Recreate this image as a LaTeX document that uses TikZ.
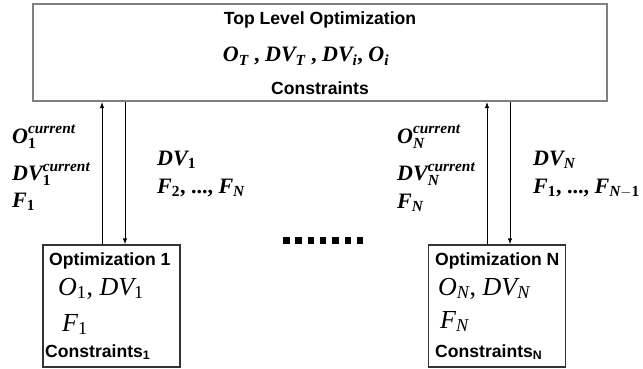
\documentclass[tikz,border=0pt]{standalone}
\usepackage{amsmath}
\usepackage{fontspec}
\setmainfont{Liberation Sans}
\newfontfamily\tms{Liberation Serif}
\usetikzlibrary{calc,arrows.meta}
\newcommand\bv[1]{\text{\tms\bfseries\itshape #1}}
\newcommand\bd[1]{\text{\tms\bfseries #1}}
\newcommand\iv[1]{\text{\tms\itshape #1}}
\newcommand\rd[1]{\text{\tms #1}}
\def\headfont{\fontsize{17.6}{21}\selectfont\bfseries}
\def\varfont{\fontsize{22}{26}\selectfont}
\def\boxvarfont{\fontsize{26}{30}\selectfont}

\begin{document}
\begin{tikzpicture}[x=1pt,y=-1pt,
	head/.style={anchor=base,inner sep=0pt,font=\headfont},
	var/.style={anchor=base west,inner sep=0pt,font=\varfont},
	optbox/.style={draw=black!80,line width=1.2pt,minimum width=137pt,minimum height=122pt},
	link/.style={line width=1pt,-{Latex[length=6pt,width=4.5pt]}}]
			\useasboundingbox (0,0) rectangle (643,369);
			\node[draw=black!50,line width=2pt,minimum width=574pt,minimum height=97pt] (top) at (320,52.5) {};
			\node[head] (ttl) at (320,25) {Top Level Optimization};
			\node[var,anchor=base] (tvar) at (306,62) {$\bv{O}_{\bv{T}}\bd{ , }\bv{DV}_{\bv{T}}\bd{ , }\bv{DV}_{\bv{i}}\bd{, }\bv{O}_{\bv{i}}$};
			\node[head] (tcon) at (320,95) {Constraints};

			\node[optbox] (opt1) at (111.5,306) {};
			\node[head,anchor=base west] (h1) at (49,265) {Optimization 1};
			\node[var,font=\boxvarfont] (v1) at (58,295) {$\iv{O}_{\rd{1}}\rd{, }\iv{DV}_{\rd{1}}$};
			\node[var,font=\boxvarfont] (f1) at (62,331) {$\iv{F}_{\rd{1}}$};
			\node[head,anchor=base west] (c1) at (45,357) {Constraints\textsubscript{1}};

			\node[optbox] (optN) at (497,306) {};
			\node[head,anchor=base west] (hN) at (435,265) {Optimization N};
			\node[var,font=\boxvarfont] (vN) at (438,295) {$\iv{O}_{\iv{N}}\rd{, }\iv{DV}_{\iv{N}}$};
			\node[var,font=\boxvarfont] (fN) at (440,328) {$\iv{F}_{\iv{N}}$};
			\node[head,anchor=base west] (cN) at (435,357) {Constraints\textsubscript{N}};

			\draw[link] ($(opt1.north)+(-9.5,0)$) coordinate (u1) -- (u1 |- top.south);
			\coordinate (d1) at ($(opt1.north)+(13.5,0)$);
			\draw[link] (top.south -| d1) -- (d1);
			\draw[link] ($(optN.north)+(-10,0)$) coordinate (uN) -- (uN |- top.south);
			\coordinate (dN) at ($(optN.north)+(13,0)$);
			\draw[link] (top.south -| dN) -- (dN);

			\node[var] (o1) at (12,143) {$\bv{O}_{\bd{1}}^{\bv{current}}$};
			\node[var] (dv1c) at (12,180) {$\bv{DV}_{\bd{1}}^{\bv{current}}$};
			\node[var] (f1l) at (12,207) {$\bv{F}_{\bd{1}}$};
			\node[var] (dv1) at (157,165) {$\bv{DV}_{\bd{1}}$};
			\node[var] (fr1) at (157,193) {$\bv{F}_{\bd{2}}\bd{, ..., }\bv{F}_{\bv{N}}$};

			\node[var] (oN) at (397,143) {$\bv{O}_{\bv{N}}^{\bv{current}}$};
			\node[var] (dvNc) at (397,180) {$\bv{DV}_{\bv{N}}^{\bv{current}}$};
			\node[var] (fNl) at (397,208) {$\bv{F}_{\bv{N}}$};
			\node[var] (dvN) at (533,165) {$\bv{DV}_{\bv{N}}$};
			\node[var] (frN) at (533,193) {$\bv{F}_{\bd{1}}\bd{, ..., }\bv{F}_{\bv{N}-\bd{1}}$};

			\foreach \i in {0,...,6}
				\fill (283+\i*12.3,237) rectangle +(6.5,6.5);
		\end{tikzpicture}
\end{document}
